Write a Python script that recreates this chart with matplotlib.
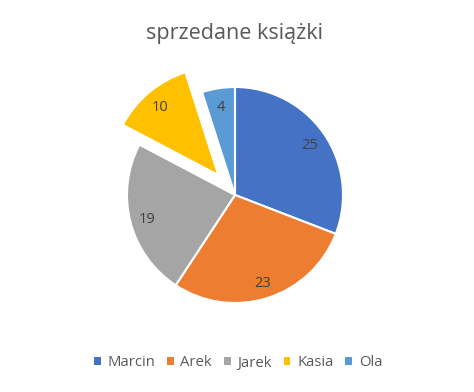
import matplotlib
matplotlib.use("Agg")
import matplotlib.pyplot as plt
from matplotlib.patches import Patch

categories = ["Marcin", "Arek", "Jarek", "Kasia", "Ola"]
values = [25, 23, 19, 10, 4]
colors = ["#4472C4", "#ED7D31", "#A5A5A5", "#FFC000", "#5B9BD5"]
explode = [0, 0, 0, 0.24, 0]
title = "sprzedane książki"

plt.rcParams['font.family'] = ['Open Sans', 'DejaVu Sans']

W, H = 474, 392
fig = plt.figure(figsize=(W / 100, H / 100), dpi=100)
R = 108
cx, cy = 235, 195
half = 1.3 * R
ax = fig.add_axes([(cx - half) / W, (H - cy - half) / H, 2 * half / W, 2 * half / H])
wedges, texts = ax.pie(values, colors=colors, startangle=90, counterclock=False,
                       explode=explode, labels=[str(v) for v in values],
                       labeldistance=0.84,
                       wedgeprops=dict(edgecolor="white", linewidth=1.5),
                       textprops=dict(color="#404040", fontsize=10.5))
for t in texts:
    t.set_horizontalalignment("center")
    t.set_verticalalignment("center_baseline")
ax.set_xlim(-1.3, 1.3)
ax.set_ylim(-1.3, 1.3)
ax.set_aspect("equal")
ax.axis("off")

fig.text(235 / W, 1 - 33 / H, title, ha="center", va="center", fontsize=15.5, color="#595959")

handles = [Patch(facecolor=c, edgecolor="none") for c in colors]
fig.legend(handles, categories, loc="center", bbox_to_anchor=(238 / W, 1 - 363 / H),
           ncol=5, frameon=False, fontsize=10.7, labelcolor="#595959",
           handlelength=0.45, handleheight=0.45, handletextpad=0.45, columnspacing=0.8)

fig.savefig("out.png", dpi=100, facecolor="white")
